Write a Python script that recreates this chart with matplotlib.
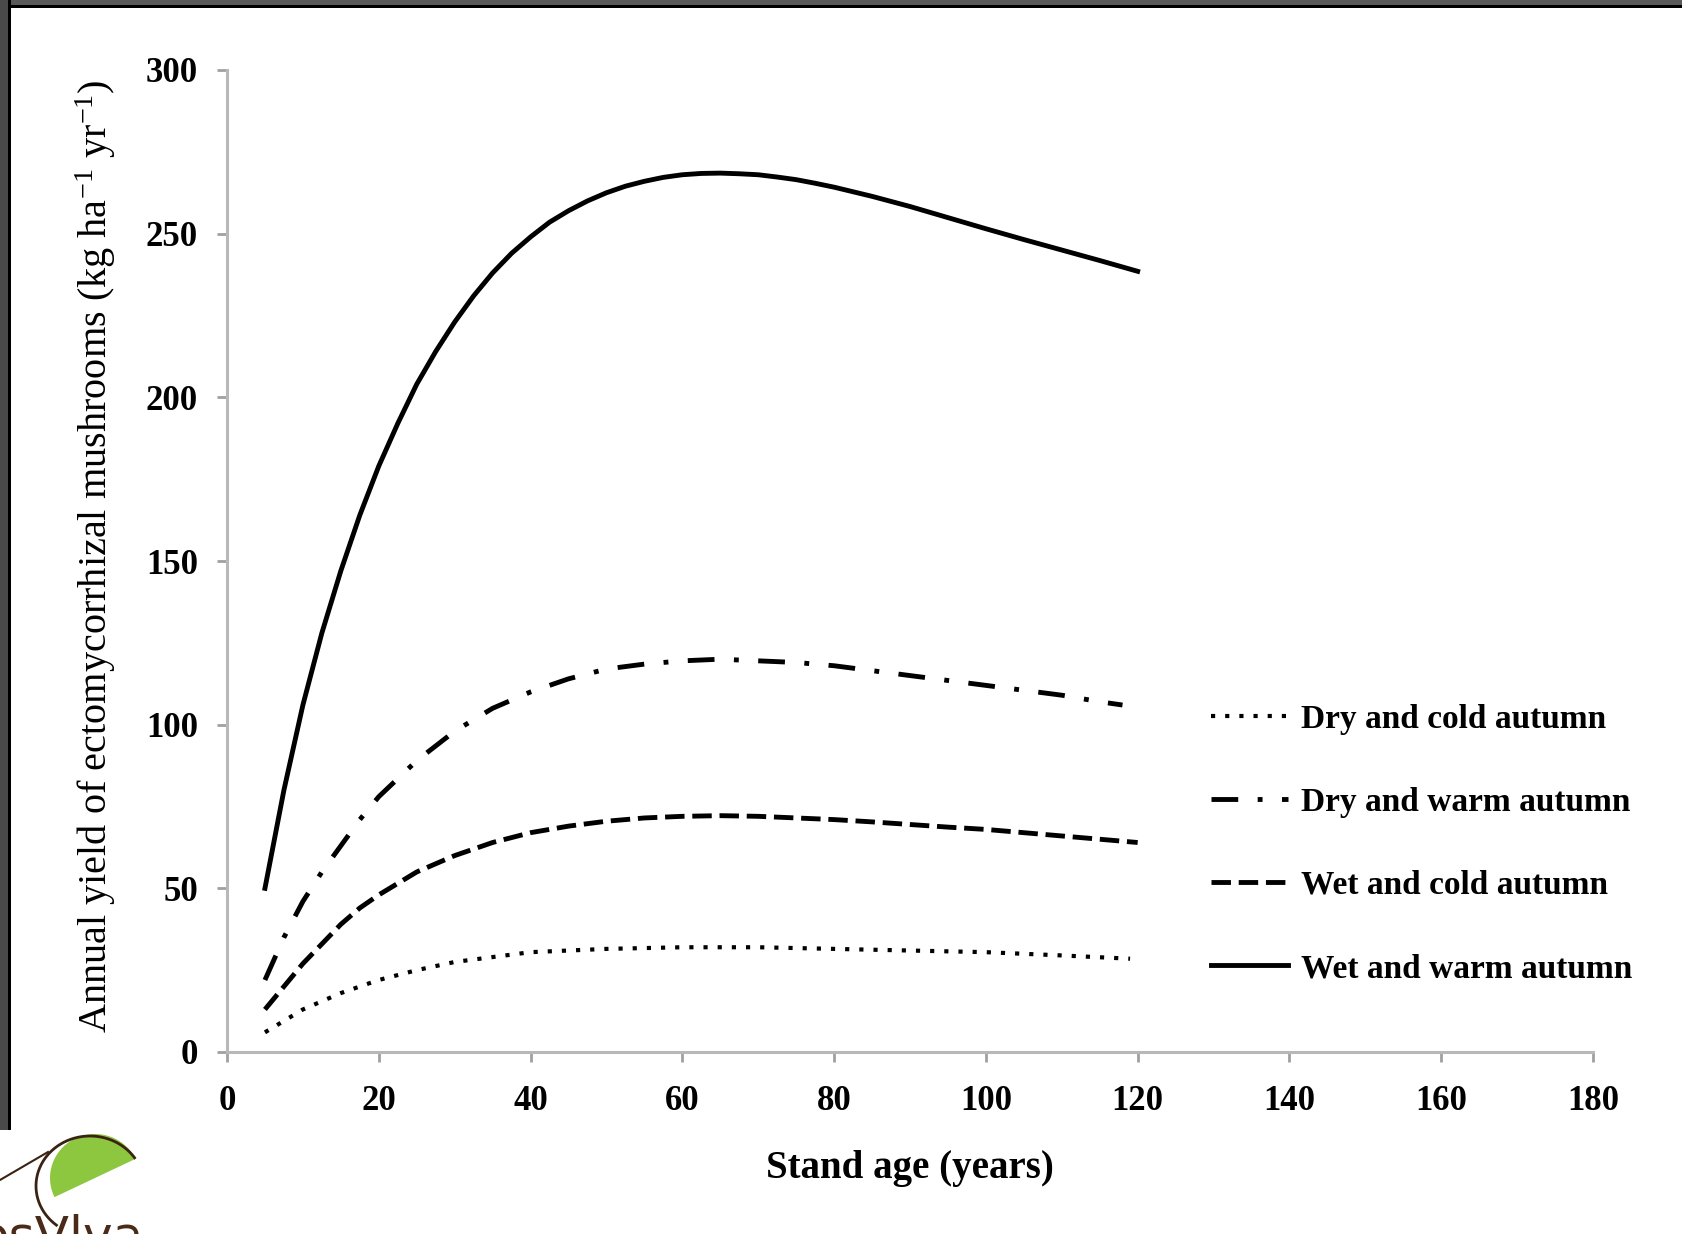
import numpy as np
import matplotlib
matplotlib.use("Agg")
import matplotlib.pyplot as plt
from matplotlib.patches import Rectangle, Polygon

plt.rcParams['font.family'] = ['Liberation Serif', 'DejaVu Serif']
plt.rcParams['mathtext.fontset'] = 'custom'
plt.rcParams['mathtext.rm'] = 'Liberation Serif'
plt.rcParams['mathtext.it'] = 'Liberation Serif:italic'
plt.rcParams['mathtext.bf'] = 'Liberation Serif:bold'

# --- values ---
age_ww = [5, 7.5, 10, 12.5, 15, 17.5, 20, 22.5, 25, 27.5, 30, 32.5, 35, 37.5, 40, 42.5, 45,
          47.5, 50, 52.5, 55, 57.5, 60, 62.5, 65, 67.5, 70, 72.5, 75, 77.5, 80, 85, 90, 95,
          100, 105, 110, 115, 120]
wet_warm = [50, 80, 106, 128, 147, 164, 179, 192, 204, 214, 223, 231, 238, 244, 249, 253.5, 257,
            260, 262.5, 264.5, 266, 267.2, 268, 268.4, 268.5, 268.3, 268, 267.3, 266.5, 265.4,
            264.2, 261.4, 258.3, 254.9, 251.5, 248.2, 245, 241.8, 238.5]

age_dw = [5, 7.5, 10, 12.5, 15, 17.5, 20, 25, 30, 35, 40, 45, 50, 55, 60, 65, 70, 75, 80, 85,
          90, 95, 100, 105, 110, 115, 118]
dry_warm = [22, 35, 46, 55, 63, 71, 78, 89, 98, 105, 110, 114, 117, 118.5, 119.5, 120, 119.5,
            119, 118, 116.5, 115, 113.5, 112, 110.5, 109, 107, 106]

age_wc = [5, 7.5, 10, 12.5, 15, 17.5, 20, 25, 30, 35, 40, 45, 50, 55, 60, 65, 70, 75, 80, 85,
          90, 95, 100, 105, 110, 115, 120]
wet_cold = [13, 20, 27, 33, 39, 44, 48, 55, 60, 64, 67, 69, 70.5, 71.5, 72, 72.2, 72, 71.5,
            71, 70.3, 69.5, 68.7, 68, 67, 66, 65, 64]

age_dc = [5, 10, 15, 20, 25, 30, 35, 40, 45, 50, 60, 70, 80, 90, 100, 110, 119]
dry_cold = [6, 13, 18, 22, 25, 27.5, 29, 30.5, 31, 31.5, 32, 32, 31.5, 31, 30.5, 29.5, 28.5]

x_ticks = [0, 20, 40, 60, 80, 100, 120, 140, 160, 180]
y_ticks = [0, 50, 100, 150, 200, 250, 300]

W, H = 1683, 1234
fig = plt.figure(figsize=(W / 100, H / 100), dpi=100)
fig.patch.set_facecolor('white')

# overlay for the frame bits and the logo (pixel coordinates)
deco = fig.add_axes([0, 0, 1, 1], zorder=0)
deco.set_xlim(0, W)
deco.set_ylim(H, 0)
deco.axis('off')
deco.add_patch(Rectangle((0, 0), W, 6, color='#5a5a5a', lw=0))
deco.add_patch(Rectangle((0, 5), W, 3, color='black', lw=0))
deco.add_patch(Rectangle((0, 0), 8, 1130, color='#4a4a4a', lw=0))
deco.add_patch(Rectangle((8, 0), 3, 1130, color='black', lw=0))

# rough logo in the corner
t = np.linspace(0, np.pi, 40)
cap_x = 95 + 45 * np.cos(t + 0.45)
cap_y = 1178 - 44 * np.sin(t + 0.45)
deco.add_patch(Polygon(np.column_stack([cap_x, cap_y]), closed=True,
                       facecolor='#8dc63f', edgecolor='none'))
out_t = np.linspace(0.2, np.pi + 0.5, 50)
deco.plot(90 + 54 * np.cos(out_t + 0.4), 1186 - 50 * np.sin(out_t + 0.4),
          color='#3b2314', lw=2)
deco.plot([0, 48], [1180, 1152], color='#3b2314', lw=1.5)
deco.text(-22, 1252, 'osVlva', color='#4a2a18', fontsize=36, family='DejaVu Sans',
          ha='left', va='baseline')

ax = fig.add_axes([227 / W, 1 - 1052 / H, (1593 - 227) / W, (1052 - 70) / H], zorder=1)
ax.patch.set_alpha(0)

ax.plot(age_dc, dry_cold, color='black', lw=3.0, ls=(0, (1, 2.4)),
        label='Dry and cold autumn')
ax.plot(age_dw, dry_warm, color='black', lw=3.5, ls=(0, (5.5, 4, 1, 4)),
        label='Dry and warm autumn')
ax.plot(age_wc, wet_cold, color='black', lw=3.5, ls=(0, (4, 1.6)),
        label='Wet and cold autumn')
ax.plot(age_ww, wet_warm, color='black', lw=3.5, ls='-',
        label='Wet and warm autumn')

ax.set_xlim(0, 180)
ax.set_ylim(0, 300)
ax.set_xticks(x_ticks)
ax.set_yticks(y_ticks)
for s in ['top', 'right']:
    ax.spines[s].set_visible(False)
for s in ['left', 'bottom']:
    ax.spines[s].set_color('#b8b8b8')
    ax.spines[s].set_linewidth(2.2)
ax.tick_params(direction='out', length=7, width=2, color='#a0a0a0',
               labelsize=25, pad=14)
ax.tick_params(axis='x', pad=17)
for lab in ax.get_xticklabels() + ax.get_yticklabels():
    lab.set_fontweight('bold')

ax.set_xlabel('Stand age (years)', fontsize=28, fontweight='bold')
ax.xaxis.set_label_coords(0.5, -0.1)
ax.set_ylabel(r'Annual yield of ectomycorrhizal mushrooms (kg ha$^{-1}$ yr$^{-1}$)',
              fontsize=29)
ax.yaxis.set_label_coords(-0.08, 0.505)

ax.legend(loc='upper left', bbox_to_anchor=(1211 / W, 1 - 704 / H),
          bbox_transform=fig.transFigure, frameon=False,
          prop={'family': 'Liberation Serif', 'weight': 'bold', 'size': 24},
          handlelength=2.3, handletextpad=0.4, labelspacing=1.56,
          borderpad=0, borderaxespad=0)

fig.savefig('out.png', dpi=100)
